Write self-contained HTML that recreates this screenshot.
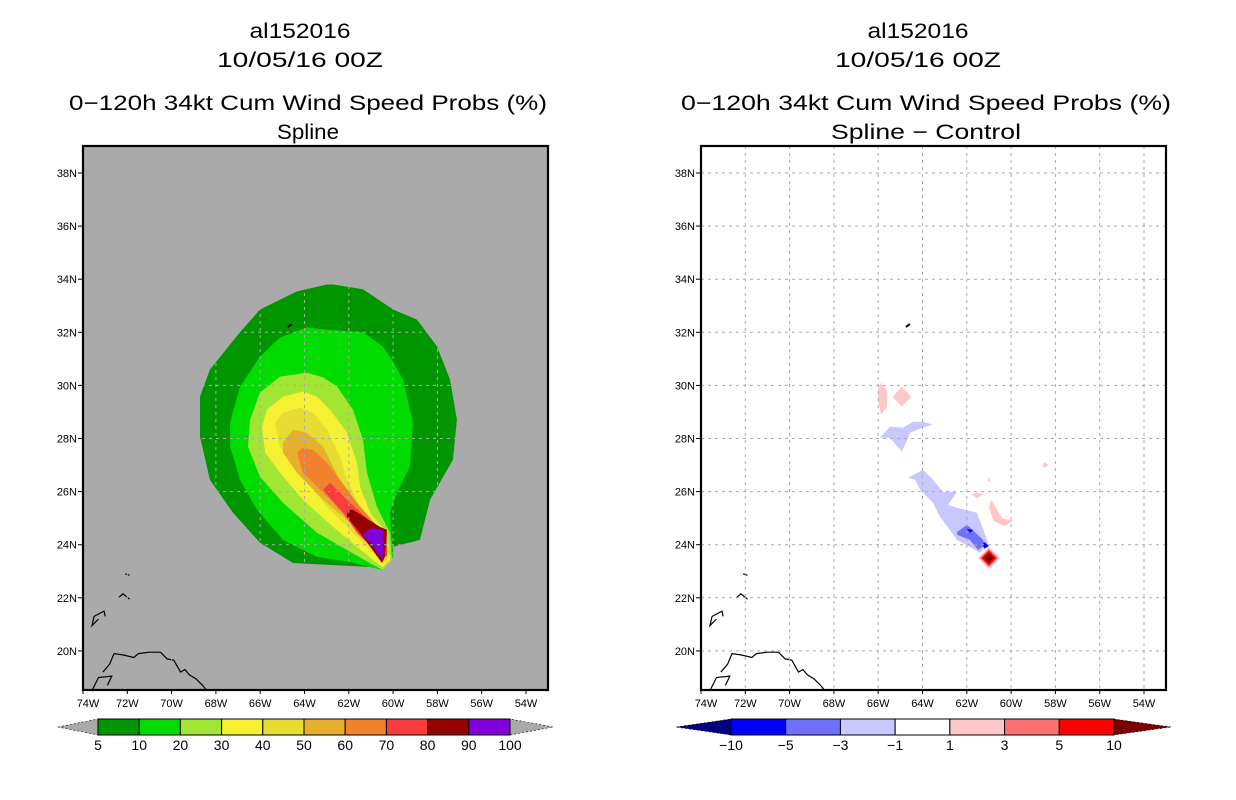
<!DOCTYPE html>
<html><head><meta charset="utf-8"><style>
html,body{margin:0;padding:0;background:#fff;}
svg{display:block;font-family:"Liberation Sans",sans-serif;}
</style></head><body>
<svg id="chart" width="1236" height="800" viewBox="0 0 1236 800">
<g id="titles" font-size="21" text-anchor="middle" fill="#000">
<text x="300" y="38" textLength="101" lengthAdjust="spacingAndGlyphs">al152016</text>
<text x="300" y="67" textLength="166" lengthAdjust="spacingAndGlyphs">10/05/16 00Z</text>
<text x="308" y="110" textLength="478" lengthAdjust="spacingAndGlyphs">0−120h 34kt Cum Wind Speed Probs (%)</text>
<text x="308" y="139" textLength="62" lengthAdjust="spacingAndGlyphs">Spline</text>
<text x="918" y="38" textLength="101" lengthAdjust="spacingAndGlyphs">al152016</text>
<text x="918" y="67" textLength="166" lengthAdjust="spacingAndGlyphs">10/05/16 00Z</text>
<text x="926" y="110" textLength="490" lengthAdjust="spacingAndGlyphs">0−120h 34kt Cum Wind Speed Probs (%)</text>
<text x="926" y="139" textLength="190" lengthAdjust="spacingAndGlyphs">Spline − Control</text>
</g>
</svg>
<script>
// ---- data ----
const lonTicks = [74,72,70,68,66,64,62,60,58,56,54];
const latTicks = [20,22,24,26,28,30,32,34,36,38];
const probLevels = [5,10,20,30,40,50,60,70,80,90,100];
const probColors = ["#009600","#00DC00","#A0E632","#F5F032","#E6DC32","#E6AF2D","#F0822D","#FA3C3C","#960000","#8200DC"];
const diffLevels = ["−10","−5","−3","−1","1","3","5","10"];
const diffColors = ["#0000FF","#7070FF","#C8C8FF","#FFFFFF","#FFC8C8","#FF7070","#FF0000"];
// contour polygons as [lonW, latN]
const p5 = [[62.98,33.8],[64.34,33.54],[66.01,32.86],[66.91,32.0],[68.27,30.6],[68.72,29.58],[68.72,28.07],[68.27,26.45],[67.23,25.2],[66.01,24.07],[64.52,23.31],[61.04,23.16],[60.46,23.05],[60.0,23.54],[60.0,23.92],[58.79,24.18],[58.33,25.69],[57.3,27.2],[57.12,28.71],[57.43,30.22],[58.02,31.47],[58.92,32.48],[60.0,32.86],[61.36,33.62],[62.71,33.8]];
const p10 = [[63.89,32.18],[65.11,31.8],[66.01,31.09],[66.91,29.96],[67.36,28.6],[67.36,27.7],[66.91,26.45],[66.14,25.31],[64.97,24.18],[63.44,23.54],[61.95,23.35],[61.04,23.16],[60.46,23.05],[60.0,23.54],[60.14,25.2],[59.82,25.96],[59.24,26.94],[59.1,28.6],[59.55,30.22],[60.14,31.09],[60.46,31.47],[61.36,32.0],[62.98,32.1]];
const p20 = [[63.89,30.48],[65.11,30.33],[66.01,29.73],[66.46,28.71],[66.55,27.69],[66.01,26.56],[64.97,25.58],[63.44,24.45],[62.08,23.8],[60.91,23.24],[60.46,23.05],[60.05,23.43],[60.14,24.45],[60.73,25.43],[61.18,26.71],[61.36,27.96],[61.81,29.09],[62.53,29.96],[63.16,30.3]];
const p30 = [[64.07,29.77],[64.97,29.58],[65.69,29.09],[65.92,28.45],[65.78,27.47],[65.11,26.71],[64.07,25.69],[62.71,24.67],[61.63,23.92],[60.73,23.31],[60.46,23.16],[60.14,23.43],[60.28,24.45],[61.04,25.2],[61.49,26.18],[61.63,27.09],[62.08,28.22],[62.85,29.09],[63.44,29.58]];
const p40 = [[64.2,29.16],[64.97,28.97],[65.33,28.6],[65.11,27.69],[64.2,26.71],[62.98,25.43],[61.81,24.45],[60.73,23.54],[60.28,23.31],[60.23,23.92],[60.73,24.67],[61.49,25.43],[62.08,26.45],[62.4,27.31],[62.98,28.33],[63.62,28.97]];
const p50 = [[64.52,28.33],[64.97,27.84],[64.97,27.47],[64.34,26.71],[63.16,25.69],[62.08,24.94],[61.04,24.07],[60.46,23.69],[60.28,24.18],[61.36,25.2],[62.26,26.18],[62.71,26.94],[63.16,27.69],[63.89,28.22]];
const p60 = [[64.07,27.65],[64.34,27.47],[64.07,26.71],[63.16,25.96],[62.4,25.31],[61.63,24.67],[60.73,24.07],[60.46,24.45],[61.63,25.58],[62.4,26.45],[62.98,27.09],[63.62,27.58]];
const p70 = [[63.16,26.07],[62.85,26.33],[61.95,25.58],[60.73,24.67],[60.28,24.45],[60.28,23.54],[60.73,23.69],[61.63,24.45],[62.26,25.2]];
const p80 = [[62.04,25.31],[61.81,25.31],[60.59,24.67],[60.28,24.56],[60.37,23.54],[60.5,23.31],[61.36,24.3],[62.08,25.05]];
const p90 = [[61.4,24.37],[60.95,24.63],[60.46,24.56],[60.46,23.43],[61.04,24.07]];
const probPolys = [p5,p10,p20,p30,p40,p50,p60,p70,p80,p90];
// difference field polygons
const dBlue1 = [[65.92,28.03],[65.47,28.45],[64.88,28.41],[64.43,28.63],[63.98,28.63],[63.53,28.52],[63.98,28.41],[64.56,28.22],[64.93,27.5],[65.47,28.03]];
const dBlue2 = [[64.65,26.52],[63.98,26.82],[63.53,26.45],[63.07,25.99],[62.44,25.99],[62.85,25.5],[62.44,25.39],[61.54,25.2],[61.04,24.07],[61.4,23.69],[61.86,23.92],[62.44,24.18],[63.21,25.05],[63.53,25.58],[64.11,26.07],[64.34,26.45]];
const dBlue3 = [[62.44,24.48],[61.99,24.75],[61.27,24.18],[61.18,23.99],[61.49,23.8],[61.86,24.18],[62.44,24.37]];
const dPink1 = [[65.87,30.1],[65.6,29.8],[65.6,29.2],[65.87,28.9],[66.0,29.4],[66.0,29.9]];
const dPink2 = [[64.93,29.95],[64.5,29.58],[64.93,29.2],[65.36,29.58]];
const dPink3 = [[60.9,25.7],[60.4,25.0],[59.9,24.9],[60.3,24.7],[60.8,24.9],[61.0,25.4]];
const dPink4 = [[61.55,25.95],[61.25,25.9],[61.55,25.75],[61.8,25.9]];
const dPink5 = [[58.5,27.1],[58.3,27.0],[58.5,26.9],[58.6,27.0]];
const dPink6 = [[60.99,26.6],[60.92,26.35],[61.05,26.4]];
const dBlue4 = [[62.0,24.6],[61.7,24.55],[61.85,24.45]];
const dBlue5 = [[61.2,24.1],[61.0,23.95],[61.2,23.85],[61.3,24.0]];
const redDiamondCenter = [61.0,23.5];
// coastlines (lonW, latN)
const coastHisp = [[73.1,19.2],[72.8,19.5],[72.6,19.9],[72.2,19.85],[71.7,19.75],[71.5,19.9],[71.0,19.95],[70.5,19.95],[70.2,19.7],[69.9,19.65],[69.6,19.2],[69.4,19.3],[69.2,19.1],[68.9,18.95],[68.6,18.7],[68.4,18.5]];
const coastHisp2 = [[73.6,18.5],[73.3,19.0],[72.7,19.05],[72.9,18.7]];
const coastTurks1 = [[73.3,21.2],[73.6,20.95],[73.5,21.3],[73.05,21.5],[73.0,21.3]];
const coastTurks2 = [[72.4,22.0],[72.2,22.15],[71.9,21.95]];
const coastCaicos = [[72.1,22.9],[71.9,22.85]];
</script>
<script>
const svg = document.getElementById('chart');
const NS = 'http://www.w3.org/2000/svg';
const panels = [{x0:83, name:'left'},{x0:701, name:'right'}];
const Y0 = 146, H = 544, W = 465, DX = 22.15, DY = 26.55;
function px(p, lonW){ return p.x0 + (74 - lonW) * DX; }
function py(lat){ return 173 + (38 - lat) * DY; }
function mk(tag, attrs, parent){ const e = document.createElementNS(NS, tag); for (const k in attrs) e.setAttribute(k, attrs[k]); (parent||svg).appendChild(e); return e; }
function pts(p, arr){ return arr.map(a => px(p,a[0]).toFixed(1)+','+py(a[1]).toFixed(1)).join(' '); }

panels.forEach((p, pi) => {
  const clip = mk('clipPath', {id:'clip'+pi});
  mk('rect', {x:p.x0, y:Y0, width:W, height:H}, clip);
  const bg = mk('rect', {x:p.x0, y:Y0, width:W, height:H, fill: pi===0 ? '#AAAAAA' : '#FFFFFF'});
  
  
  const g = mk('g', {'clip-path':'url(#clip'+pi+')'});
  
  
  if (pi === 0) {
    probPolys.forEach((poly, i) => {
      const e = mk('polygon', {points: pts(p, poly), fill: probColors[i]}, g);
      
      
    });
  } else {
    const shapes = [[dPink1,'#FFC8C8'],[dPink2,'#FFC8C8'],[dPink3,'#FFC8C8'],[dPink4,'#FFC8C8'],[dPink5,'#FFC8C8'],[dPink6,'#FFC8C8'],[dBlue1,'#C8C8FF'],[dBlue2,'#C8C8FF'],[dBlue3,'#7070FF'],[dBlue4,'#0000FF'],[dBlue5,'#0000FF']];
    shapes.forEach((s, i) => {
      const e = mk('polygon', {points: pts(p, s[0]), fill: s[1]}, g);
      
      
    });
    const cx = px(p, redDiamondCenter[0]), cy = py(redDiamondCenter[1]);
    [[11,'#FFC8C8'],[9,'#FF7070'],[7.5,'#FF0000'],[5,'#780000']].forEach((d, i) => {
      const e = mk('polygon', {points: `${cx},${cy-d[0]} ${cx+d[0]},${cy} ${cx},${cy+d[0]} ${cx-d[0]},${cy}`, fill: d[1]}, g);
      
      
    });
  }
  [coastHisp, coastHisp2, coastTurks1, coastTurks2, coastCaicos].forEach((c, i) => {
    const e = mk('polyline', {points: pts(p, c), fill:'none', stroke:'#000', 'stroke-width':1.2}, g);
    
    
  });
  const isl = mk('path', {d:`M${px(p,64.75)},${py(32.2)} l4,-3`, stroke:'#000','stroke-width':2}, g);
  
  
  // gridlines
  lonTicks.forEach(l => {
    if (l === 74) return;
    const e = mk('line', {x1:px(p,l), x2:px(p,l), y1:Y0, y2:Y0+H, stroke:'#AAAAAA', 'stroke-dasharray':'3,4'}, g);
    
    
  });
  latTicks.forEach(l => {
    const e = mk('line', {x1:p.x0, x2:p.x0+W, y1:py(l), y2:py(l), stroke:'#AAAAAA', 'stroke-dasharray':'3,4'}, g);
    
    
  });
  const fr = mk('rect', {x:p.x0, y:Y0, width:W, height:H, fill:'none', stroke:'#000', 'stroke-width':2.2});
  
  
  latTicks.forEach(l => {
    mk('line', {x1:p.x0-5, x2:p.x0, y1:py(l), y2:py(l), stroke:'#000'});
    const t = mk('text', {x:p.x0-6, y:py(l)+4, 'font-size':11, 'text-anchor':'end'});
    t.textContent = l + 'N';
    
    
  });
  lonTicks.forEach(l => {
    const x = Math.max(px(p,l), p.x0+5);
    mk('line', {x1:px(p,l), x2:px(p,l), y1:Y0+H, y2:Y0+H+4, stroke:'#000'});
    const t = mk('text', {x:x, y:Y0+H+17, 'font-size':11, 'text-anchor':'middle'});
    t.textContent = l + 'W';
    
    
  });
});

// colorbars
function colorbar(x0, x1, tipL, tipR, colors, labels, leftTip, rightTip, name, labelOffset) {
  const y0 = 719, y1 = 735, ym = 727;
  const g = mk('g', {});
  
  
  mk('polygon', {points:`${tipL},${ym} ${x0},${y0} ${x0},${y1}`, fill:leftTip, stroke:'#000','stroke-width':0.6,'stroke-dasharray':'2,2'}, g);
  mk('polygon', {points:`${tipR},${ym} ${x1},${y0} ${x1},${y1}`, fill:rightTip, stroke:'#000','stroke-width':0.6,'stroke-dasharray':'2,2'}, g);
  const w = (x1 - x0) / colors.length;
  colors.forEach((c, i) => {
    const r = mk('rect', {x:x0+i*w, y:y0, width:w, height:y1-y0, fill:c, stroke:'#000', 'stroke-width':1}, g);
    
    
  });
  labels.forEach((lb, i) => {
    const t = mk('text', {x:x0+(i+labelOffset)*w, y:750, 'font-size':14, 'text-anchor':'middle'}, g);
    t.textContent = lb;
    
    
  });
}
colorbar(98, 510, 58, 553, probColors, probLevels.map(String), '#AAAAAA', '#AAAAAA', 'prob-colorbar', 0);
colorbar(731, 1114, 676, 1171, diffColors, diffLevels, '#000080', '#780000', 'diff-colorbar', 0);
</script>
</body></html>
